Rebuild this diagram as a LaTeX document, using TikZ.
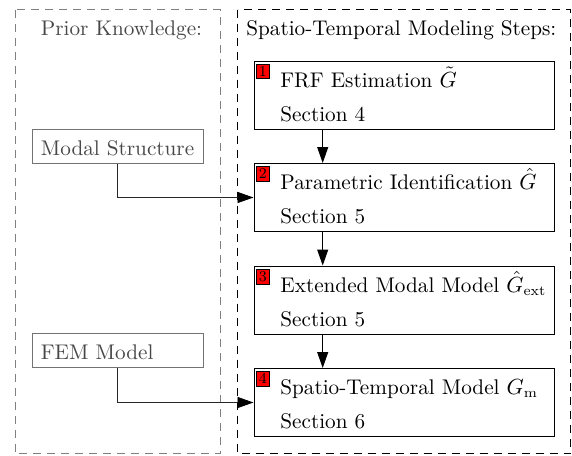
\documentclass[tikz,border=0pt]{standalone}
\usetikzlibrary{arrows.meta}
\begin{document}
\begin{tikzpicture}[x=0.5pt,y=-0.5pt,
  frame/.style={draw, dashed, dash pattern=on 4pt off 3pt, line width=0.4pt},
  leftframe/.style={frame, draw=black!50},
  rightframe/.style={frame, draw=black},
  stepbox/.style={draw=black, line width=0.5pt, rectangle, minimum width=150pt, minimum height=34pt, inner sep=0pt},
  priorbox/.style={draw=black!55, line width=0.5pt, rectangle, minimum width=85.5pt, minimum height=17pt, inner sep=0pt},
  badge/.style={draw=black, fill=red, font=\fontsize{7.5}{8}\selectfont, inner sep=1.2pt, anchor=north west},
  txt/.style={anchor=base west, inner sep=0pt, font=\fontsize{10.6}{12.7}\selectfont},
  graytxt/.style={txt, text=black!72},
  flow/.style={draw=black, line width=0.5pt, -{Triangle[length=8pt,width=5.5pt]}},
  feed/.style={draw=black!85, line width=0.45pt, -{Triangle[length=8pt,width=5.5pt,fill=black,color=black]}}
]
\useasboundingbox (0,0) rectangle (572,455);
% frames
\draw[leftframe] (15,9.5) rectangle (220,453.5);
\draw[rightframe] (237.5,9.5) rectangle (570.5,453.5);
\node[graytxt] (tl) at (40.5,35) {Prior Knowledge:};
\node[txt] (tr) at (246,35) {Spatio-Temporal Modeling Steps:};
% step boxes
\node[stepbox] (s1) at (404,95) {};
\node[stepbox] (s2) at (404,197.5) {};
\node[stepbox] (s3) at (404,300) {};
\node[stepbox] (s4) at (404,402.5) {};
\node[badge] (b1) at (256,63.5) {1};
\node[badge] (b2) at (256,166) {2};
\node[badge] (b3) at (256,268.5) {3};
\node[badge] (b4) at (256,371) {4};
\node[txt] (t1a) at (280,87) {FRF Estimation $\tilde{G}$};
\node[txt] (t1b) at (280,121) {Section 4};
\node[txt] (t2a) at (280,189.5) {Parametric Identification $\hat{G}$};
\node[txt] (t2b) at (280,223.5) {Section 5};
\node[txt] (t3a) at (280,292) {Extended Modal Model $\hat{G}_{\mathrm{ext}}$};
\node[txt] (t3b) at (280,326) {Section 5};
\node[txt] (t4a) at (280,394.5) {Spatio-Temporal Model $G_{\mathrm{m}}$};
\node[txt] (t4b) at (280,428.5) {Section 6};
% prior boxes
\node[priorbox] (ms) at (117.5,146) {};
\node[graytxt] (mst) at (40.5,155) {Modal Structure};
\node[priorbox] (fem) at (117.5,350) {};
\node[graytxt] (femt) at (40.5,359) {FEM Model};
% connectors
\draw[flow] (s1.south -| 322.7,0) -- (s2.north -| 322.7,0);
\draw[flow] (s2.south -| 322.7,0) -- (s3.north -| 322.7,0);
\draw[flow] (s3.south -| 322.7,0) -- (s4.north -| 322.7,0);
\draw[feed] (ms.south) |- (s2.west);
\draw[feed] (fem.south) |- (s4.west);
\end{tikzpicture}
\end{document}
